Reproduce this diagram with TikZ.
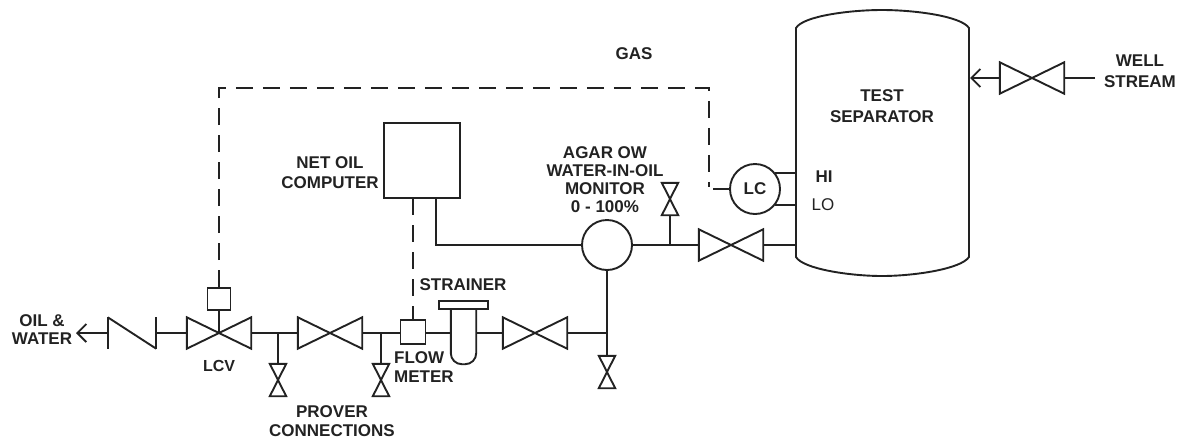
\documentclass[tikz,border=0pt]{standalone}
\usepackage{fontspec}
\setmainfont{Liberation Sans}
\usetikzlibrary{positioning, arrows.meta}
\definecolor{pid_line}{HTML}{222222}

% Bowtie valves: name, x, y
\newcommand{\valveh}[3]{
  \node[valve_h] (#1) at (#2, #3) {};
  \draw[pipe] (#1.north west) -- (#1.south east) -- (#1.north east) -- (#1.south west) -- cycle;
}
\newcommand{\valvev}[3]{
  \node[valve_v] (#1) at (#2, #3) {};
  \draw[pipe] (#1.north west) -- (#1.north east) -- (#1.south west) -- (#1.south east) -- cycle;
}

\begin{document}
\begin{tikzpicture}[
    x=1pt, y=-1pt,
    pipe/.style = {draw=pid_line, line width=1.9pt, line join=miter},
    signal/.style = {draw=pid_line, line width=1.9pt, dash pattern=on 17pt off 10pt},
    flow_arrow/.style = {pipe, -{Straight Barb[length=9pt, width=18pt]}},
    valve_h/.style = {minimum width=64pt, minimum height=31pt, inner sep=0},
    valve_v/.style = {minimum width=16pt, minimum height=32pt, inner sep=0},
    instr_box/.style = {pipe, minimum width=23pt, minimum height=22pt, inner sep=0},
    instr_circle/.style = {pipe, circle, minimum size=50pt, inner sep=0},
    tag/.style = {text=pid_line, font=\fontsize{17}{20}\selectfont\bfseries, align=center, inner sep=0}
]
\useasboundingbox (0, 0) rectangle (1184, 440);

% 1. Separator
\draw[pipe] (796, 28) .. controls (803, 16) and (850, 10) .. (882, 10)
    .. controls (914, 10) and (961, 16) .. (969, 28)
    -- (969, 257) .. controls (961, 269) and (914, 276) .. (882, 276)
    .. controls (850, 276) and (803, 269) .. (796, 257) -- cycle;
\coordinate (tank_hi) at (796, 173);
\coordinate (tank_lo) at (796, 205);
\coordinate (tank_out) at (796, 245);
\coordinate (tank_in) at (970, 78);

% 2. Valves
\valveh{valve_well}{1032}{78}
\valveh{valve_tank}{731}{245}
\valveh{valve_strainer}{535}{333}
\valveh{valve_prover}{330}{333}
\valveh{valve_lcv}{219}{333}
\valvev{vent_monitor}{670}{199}
\valvev{drain_tee}{607}{372}
\valvev{drain_a}{278}{380}
\valvev{drain_b}{381}{380}

% Check valve
\node[minimum width=48pt, minimum height=31pt, inner sep=0] (check_valve) at (132, 333) {};
\draw[pipe] (check_valve.north west) -- (check_valve.south west);
\draw[pipe] (check_valve.north west) -- (check_valve.south east);
\draw[pipe] (check_valve.north east) -- (check_valve.south east);

% 3. Instruments
\node[pipe, minimum width=76pt, minimum height=75pt, inner sep=0] (computer) at (422, 160.5) {};
\node[instr_circle] (monitor) at (607, 245) {};
\node[instr_circle, tag] (lc) at (755, 189) {LC};
\node[instr_box] (lcv_box) at (219, 299) {};
\node[instr_box, minimum width=25pt, minimum height=24pt] (flow_meter) at (413, 332) {};

% Strainer
\node[minimum width=25pt, minimum height=55pt, inner sep=0] (strainer_body) at (463.5, 336.5) {};
\draw[pipe, rounded corners=11pt] (strainer_body.north west) -- (strainer_body.south west)
    -- (strainer_body.south east) -- (strainer_body.north east);
\node[pipe, minimum width=49pt, minimum height=8pt, inner sep=0] (strainer_cap) at (463.5, 305) {};

% 4. Piping
\coordinate (well_in) at (1095, 78);
\coordinate (oil_out) at (76, 333);
\coordinate (tee_a) at (278, 333);
\coordinate (tee_b) at (381, 333);
\coordinate (tee_c) at (607, 333);
\coordinate (tee_d) at (670, 245);
\coordinate (computer_out) at (436, 198);
\coordinate (monitor_in) at (436, 245);

\draw[pipe] (well_in) -- (valve_well.east);
\draw[flow_arrow] (valve_well.west) -- (tank_in);
\draw[pipe] (tank_out) -- (valve_tank.east);
\draw[pipe] (valve_tank.west) -- (monitor.east);
\draw[pipe] (tee_d) -- (vent_monitor.south);
\draw[pipe] (computer_out) -- (monitor_in) -- (monitor.west);
\draw[pipe] (monitor.south) -- (drain_tee.north);
\draw[pipe] (tee_c) -- (valve_strainer.east);
\draw[pipe] (valve_strainer.west) -- (valve_strainer.west -| strainer_body.east);
\draw[pipe] (flow_meter.east |- valve_strainer.west) -- (valve_strainer.west -| strainer_body.west);
\draw[pipe] (valve_prover.east) -- (flow_meter.west |- valve_prover.east);
\draw[pipe] (valve_prover.west) -- (valve_lcv.east);
\draw[pipe] (tee_a) -- (drain_a.north);
\draw[pipe] (tee_b) -- (drain_b.north);
\draw[pipe] (valve_lcv.west) -- (check_valve.east);
\draw[flow_arrow] (check_valve.west) -- (oil_out);
\draw[pipe] (lcv_box.south) -- (valve_lcv.center);
\draw[pipe] (tank_hi -| lc.40) -- (tank_hi);
\draw[pipe] (tank_lo -| lc.-40) -- (tank_lo);

% 5. Signal lines
\coordinate (gas_corner) at (709, 88);
\coordinate (gas_end) at (709, 187);
\coordinate (lc_stub) at (713, 189);
\coordinate (computer_sig) at (413, 198);
\draw[signal] (lcv_box.north) |- (gas_corner) -- (gas_end);
\draw[pipe] (lc_stub) -- (lc.west);
\draw[signal] (computer_sig) -- (flow_meter.north);

% 6. Labels
\node[tag] (lbl_gas) at (634, 54) {GAS};
\node[tag] (lbl_well) at (1140, 71) {WELL\\[1pt]STREAM};
\node[tag] (lbl_tank) at (882, 106) {TEST\\[1pt]SEPARATOR};
\node[tag] (lbl_computer) at (330, 173) {NET OIL\\COMPUTER};
\node[tag] (lbl_monitor) at (605, 180) {AGAR OW\\[-2pt]WATER-IN-OIL\\[-2pt]MONITOR\\[-2pt]0 - 100\%};
\node[tag] (lbl_hi) at (824, 177) {HI};
\node[tag, font=\fontsize{17}{20}\selectfont] (lbl_lo) at (823, 205) {LO};
\node[tag] (lbl_oil) at (42, 330) {OIL \&\\[-2pt]WATER};
\node[tag, font=\fontsize{16}{18}\selectfont\bfseries] (lbl_lcv) at (219, 366) {LCV};
\node[tag] (lbl_prover) at (332, 421) {PROVER\\[-1pt]CONNECTIONS};
\node[tag, anchor=west, align=left] (lbl_flow) at (394, 367) {FLOW\\[-1pt]METER};
\node[tag] (lbl_strainer) at (463, 285) {STRAINER};
\end{tikzpicture}
\end{document}
